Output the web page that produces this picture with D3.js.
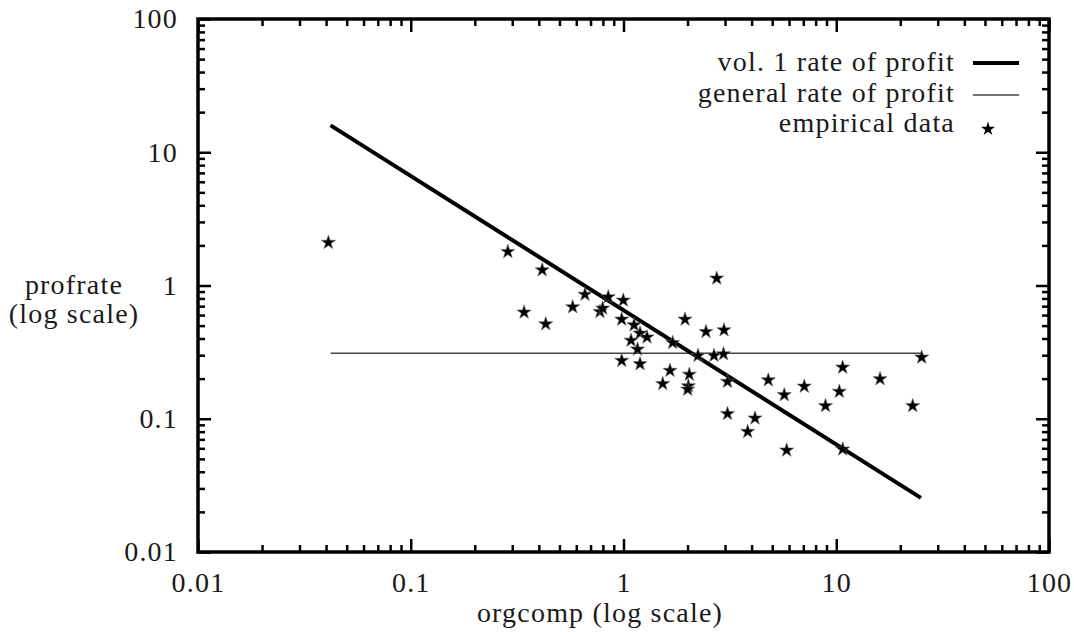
<!DOCTYPE html>
<html>
<head>
<meta charset="utf-8">
<script src="https://cdn.jsdelivr.net/npm/d3@7"></script>
<style>
  body { margin: 0; background: #fff; }
  svg text { font-family: "Liberation Serif", "DejaVu Serif", "Times New Roman", serif; fill: #1a1a1a; }
</style>
</head>
<body>
<div id="chart"></div>
<script>
// empirical data
const orgcomp = [0.041, 0.286, 0.415, 0.341, 0.431, 0.577, 0.659, 0.848, 0.998, 0.775,
  0.798, 0.981, 1.121, 1.196, 1.29, 1.085, 1.164, 0.981, 1.196, 1.946,
  2.442, 2.968, 1.703, 2.24, 2.663, 2.952, 1.654, 2.039, 1.529, 2.017,
  2.004, 2.743, 3.083, 3.083, 4.793, 5.698, 7.076, 8.902, 4.151, 3.835,
  5.848, 25.21, 10.72, 16.06, 10.34, 22.87, 10.72]
const profrate = [2.1, 1.794, 1.307, 0.629, 0.514, 0.69, 0.856, 0.82, 0.774, 0.636,
  0.674, 0.557, 0.505, 0.438, 0.409, 0.387, 0.332, 0.273, 0.258, 0.557,
  0.45, 0.463, 0.372, 0.298, 0.298, 0.306, 0.23, 0.215, 0.183, 0.176,
  0.166, 1.132, 0.19, 0.109, 0.195, 0.151, 0.175, 0.125, 0.101, 0.08,
  0.058, 0.289, 0.243, 0.199, 0.16, 0.125, 0.059]

// the two model lines (end points)
const vol1X = [0.042, 25]
const vol1Y = [15.9, 0.0255]
const generalX = [0.042, 25]
const generalY = [0.31, 0.31]

const majorTicks = [0.01, 0.1, 1, 10, 100]
const tickLabels = ['0.01', '0.1', '1', '10', '100']
const legendLabels = ['vol. 1 rate of profit', 'general rate of profit', 'empirical data']

const margin = { top: 19, left: 198, right: 25, bottom: 80 }
const width = 1074 - margin.left - margin.right
const height = 632 - margin.top - margin.bottom

const svg = d3
  .select('#chart')
  .append('svg')
  .attr('width', width + margin.left + margin.right)
  .attr('height', height + margin.top + margin.bottom)
  .append('g')
  .attr('transform', 'translate(' + margin.left + ',' + margin.top + ')')

const xPositionScale = d3.scaleLog().domain([0.01, 100]).range([0, width])
const yPositionScale = d3.scaleLog().domain([0.01, 100]).range([height, 0])

// minor ticks 2..9 in each decade
const minorTicks = []
majorTicks.slice(0, -1).forEach(d => {
  for (let k = 2; k <= 9; k++) minorTicks.push(d * k)
})

const fontFamily = '"Liberation Serif", "DejaVu Serif", serif'
const fontSize = 28
const major = 13
const minor = 7

function styleAxis(g) {
  g.select('.domain').remove()
  g.selectAll('.tick line').attr('stroke', '#000').attr('stroke-width', 2.5)
  g.selectAll('.tick text')
    .attr('font-family', fontFamily)
    .attr('font-size', fontSize)
    .attr('letter-spacing', 1.2)
}

// bottom + top
svg.append('g')
  .attr('transform', 'translate(0,' + height + ')')
  .call(d3.axisBottom(xPositionScale).tickValues(majorTicks)
    .tickFormat((d, i) => tickLabels[i]).tickSize(-major).tickPadding(20))
  .call(styleAxis)
svg.append('g')
  .attr('transform', 'translate(0,' + height + ')')
  .call(d3.axisBottom(xPositionScale).tickValues(minorTicks)
    .tickFormat('').tickSize(-minor))
  .call(styleAxis)
svg.append('g')
  .call(d3.axisTop(xPositionScale).tickValues(majorTicks)
    .tickFormat('').tickSize(-major))
  .call(styleAxis)
svg.append('g')
  .call(d3.axisTop(xPositionScale).tickValues(minorTicks)
    .tickFormat('').tickSize(-minor))
  .call(styleAxis)

// left + right
svg.append('g')
  .call(d3.axisLeft(yPositionScale).tickValues(majorTicks)
    .tickFormat((d, i) => tickLabels[i]).tickSize(-major).tickPadding(20))
  .call(styleAxis)
svg.append('g')
  .call(d3.axisLeft(yPositionScale).tickValues(minorTicks)
    .tickFormat('').tickSize(-minor))
  .call(styleAxis)
svg.append('g')
  .attr('transform', 'translate(' + width + ',0)')
  .call(d3.axisRight(yPositionScale).tickValues(majorTicks)
    .tickFormat('').tickSize(-major))
  .call(styleAxis)
svg.append('g')
  .attr('transform', 'translate(' + width + ',0)')
  .call(d3.axisRight(yPositionScale).tickValues(minorTicks)
    .tickFormat('').tickSize(-minor))
  .call(styleAxis)

// frame
svg.append('rect')
  .attr('width', width)
  .attr('height', height)
  .attr('fill', 'none')
  .attr('stroke', '#000')
  .attr('stroke-width', 3.5)

const line = d3.line()
  .x(d => xPositionScale(d[0]))
  .y(d => yPositionScale(d[1]))

svg.append('path')
  .datum(generalX.map((d, i) => [d, generalY[i]]))
  .attr('d', line)
  .attr('fill', 'none')
  .attr('stroke', '#444')
  .attr('stroke-width', 1.4)

svg.append('path')
  .datum(vol1X.map((d, i) => [d, vol1Y[i]]))
  .attr('d', line)
  .attr('fill', 'none')
  .attr('stroke', '#000')
  .attr('stroke-width', 4)

const star = d3.symbol().type(d3.symbolStar).size(62)

svg.selectAll('.star')
  .data(orgcomp.map((d, i) => [d, profrate[i]]))
  .enter()
  .append('path')
  .attr('class', 'star')
  .attr('d', star)
  .attr('transform', d => 'translate(' + xPositionScale(d[0]) + ',' + yPositionScale(d[1]) + ')')
  .attr('fill', '#000')
  .attr('stroke', '#666')
  .attr('stroke-width', 0.6)

// axis titles
svg.append('text')
  .text('orgcomp (log scale)')
  .attr('x', 402)
  .attr('y', height + 70)
  .attr('text-anchor', 'middle')
  .attr('font-family', fontFamily)
  .attr('font-size', fontSize)
  .attr('letter-spacing', 1.2)

const ylab = svg.append('text')
  .attr('text-anchor', 'middle')
  .attr('font-family', fontFamily)
  .attr('font-size', fontSize)
  .attr('letter-spacing', 1.2)
ylab.append('tspan').attr('x', 74 - margin.left).attr('y', 294 - margin.top).text('profrate')
ylab.append('tspan').attr('x', 74 - margin.left).attr('y', 323 - margin.top).text('(log scale)')

// legend
const legend = svg.append('g').attr('transform', 'translate(' + (955 - margin.left) + ',0)')
const rowY = [52, 82.5, 113]
legendLabels.forEach((label, i) => {
  legend.append('text')
    .text(label)
    .attr('x', 0)
    .attr('y', rowY[i])
    .attr('text-anchor', 'end')
    .attr('font-family', fontFamily)
    .attr('font-size', fontSize)
    .attr('letter-spacing', 1.2)
})
legend.append('line')
  .attr('x1', 18).attr('x2', 64)
  .attr('y1', rowY[0] - 8).attr('y2', rowY[0] - 8)
  .attr('stroke', '#000').attr('stroke-width', 4)
legend.append('line')
  .attr('x1', 18).attr('x2', 64)
  .attr('y1', rowY[1] - 6.5).attr('y2', rowY[1] - 6.5)
  .attr('stroke', '#444').attr('stroke-width', 1.4)
legend.append('path')
  .attr('d', star)
  .attr('transform', 'translate(33,' + (rowY[2] - 3) + ')')
  .attr('fill', '#000')
</script>
</body>
</html>
